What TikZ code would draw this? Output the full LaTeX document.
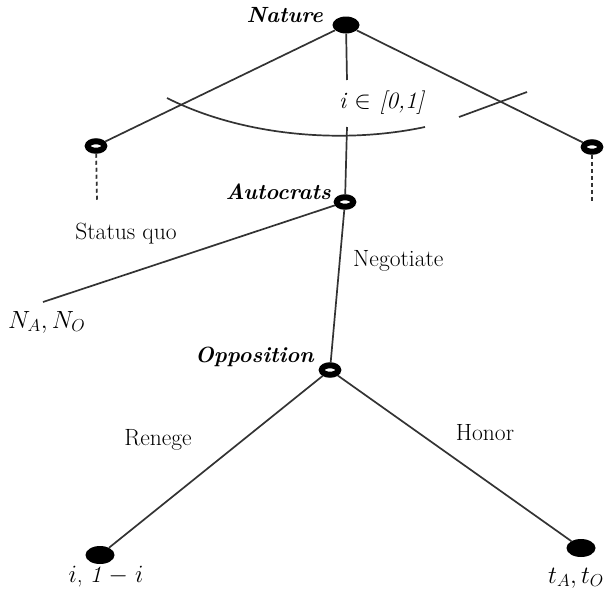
\documentclass[tikz,border=0pt]{standalone}
\usetikzlibrary{shapes.geometric}
\begin{document}
\begin{tikzpicture}[x=1pt,y=-1pt,
  edge/.style={draw=black!80, line width=1.7pt},
  ring/.style={ellipse, draw=black, line width=6pt, fill=white, minimum width=16.5pt, minimum height=9.5pt, inner sep=0pt},
  leaf/.style={ellipse, fill=black, minimum width=29pt, minimum height=18pt, inner sep=0pt},
  lbl/.style={font=\fontsize{23.5}{28}\selectfont, inner sep=0pt},
  player/.style={font=\fontsize{22}{26}\selectfont\bfseries\itshape, inner sep=0pt}]
\useasboundingbox (0,0) rectangle (606,592);
% nodes
\node[leaf, minimum width=27pt, minimum height=17pt] (nat) at (346,25) {};
\node[player, anchor=east] (natl) at (323,15) {Nature};
\node[ring] (l) at (96,146) {};
\node[ring] (r) at (592,147) {};
\coordinate (ld) at (97,201);
\coordinate (rd) at (592,201);
\node[ring] (aut) at (345,202) {};
\node[player, anchor=east] (autl) at (331,192) {Autocrats};
\node[ring] (opp) at (330,370) {};
\node[player, anchor=east] (oppl) at (314,357) {Opposition};
\coordinate (sq) at (43,302);
\node[leaf] (ren) at (100,555) {};
\node[leaf] (hon) at (581,548) {};
\coordinate (v1) at (347,80);
\coordinate (v2) at (347,127);
\coordinate (a1) at (167,98);
\coordinate (a2) at (425,127);
\coordinate (b1) at (459,117);
\coordinate (b2) at (527,92);
% labels
\node[lbl, anchor=west] (info) at (339,103) {\itshape i $\in$ [0,1]};
\node[lbl] (sql) at (126,234) {Status quo};
\node[lbl, anchor=west] (nn) at (8,322) {$N_A, N_O$};
\node[lbl, anchor=west] (negl) at (353,261) {Negotiate};
\node[lbl] (renl) at (158,440) {Renege};
\node[lbl] (honl) at (485,433) {Honor};
\node[lbl] (payl) at (106,577) {$i$, \textit{1} $-$ $i$};
\node[lbl, anchor=east] (payr) at (604,578) {$t_A, t_O$};
% edges
\draw[edge] (nat) -- (l);
\draw[edge] (nat) -- (r);
\draw[edge] (nat) -- (v1);
\draw[edge] (v2) -- (aut);
\draw[edge] (a1) .. controls (240,135) and (340,145) .. (a2);
\draw[edge] (b1) -- (b2);
\draw[edge, dash pattern=on 4pt off 3pt] (l) -- (ld);
\draw[edge, dash pattern=on 4pt off 3pt] (r) -- (rd);
\draw[edge] (aut) -- (sq);
\draw[edge] (aut) -- (opp);
\draw[edge] (opp) -- (ren);
\draw[edge] (opp) -- (hon);
\end{tikzpicture}
\end{document}
